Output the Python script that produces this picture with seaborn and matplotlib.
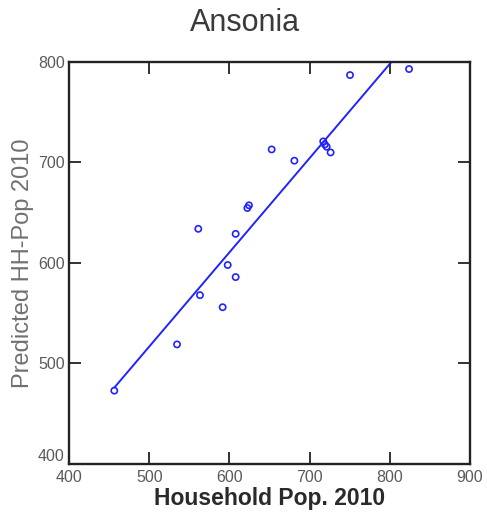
import matplotlib
matplotlib.use("Agg")
import matplotlib.pyplot as plt
import seaborn as sns
import pandas as pd

# Data
household_pop = [456.5, 534.7, 561.2, 563.3, 591.6, 597.9, 607.8, 607.8, 622.4, 624.4,
                 652.7, 681.0, 717.0, 719.0, 721.3, 726.2, 750.4, 824.0]
predicted_pop = [473.0, 519.0, 634.0, 568.0, 556.0, 598.0, 586.0, 629.0, 654.7, 657.4,
                 713.0, 701.8, 721.0, 718.0, 715.7, 710.0, 787.0, 793.0]
fit_x = [456.5, 802.0]
fit_y = [476.0, 800.0]
x_ticks = [400, 500, 600, 700, 800, 900]
y_ticks = [400, 500, 600, 700, 800]

sns.set_theme(style="white")
plt.rcParams['font.family'] = ['Liberation Sans', 'DejaVu Sans']

df = pd.DataFrame({"x": household_pop, "y": predicted_pop})
line_df = pd.DataFrame({"x": fit_x, "y": fit_y})

fig = plt.figure(figsize=(4.87, 5.21), dpi=100)
ax = fig.add_axes([69/487, 1 - 464/521, (470 - 69)/487, (464 - 62)/521])

sns.lineplot(data=line_df, x="x", y="y", ax=ax, color="#2222ff", linewidth=1.4)
sns.scatterplot(data=df, x="x", y="y", ax=ax, marker="o", s=20,
                facecolors="none", edgecolor="#2222ff", linewidth=1.2, zorder=3)

ax.set_xlim(400, 900)
ax.set_ylim(400, 800)
ax.set_xticks(x_ticks)
ax.set_yticks(y_ticks)
ax.set_xticklabels([str(t) for t in x_ticks])
ax.set_yticklabels([str(t) for t in y_ticks])

ax.tick_params(axis="both", which="major", direction="in", length=8.5, width=1.3,
               colors="#222222", labelcolor="#5a5a5a", labelsize=11.5,
               top=True, right=True, left=True, bottom=True)
ax.tick_params(axis="x", pad=4)
ax.tick_params(axis="y", pad=3)
for lab in ax.get_yticklabels():
    if lab.get_text() == "400":
        lab.set_va("bottom")

for sp in ax.spines.values():
    sp.set_visible(True)
    sp.set_color("#222222")
    sp.set_linewidth(1.7)

ax.set_xlabel("Household Pop. 2010", fontsize=16.5, fontweight="bold", color="#2a2a2a", labelpad=2)
ax.set_ylabel("Predicted HH-Pop 2010", fontsize=17, color="#707070", labelpad=3)
fig.text(245/487, 1 - 23/521, "Ansonia", ha="center", va="center", fontsize=22, color="#3a3a3a")

ax.grid(False)
fig.savefig("out.png", dpi=100, facecolor="white")
